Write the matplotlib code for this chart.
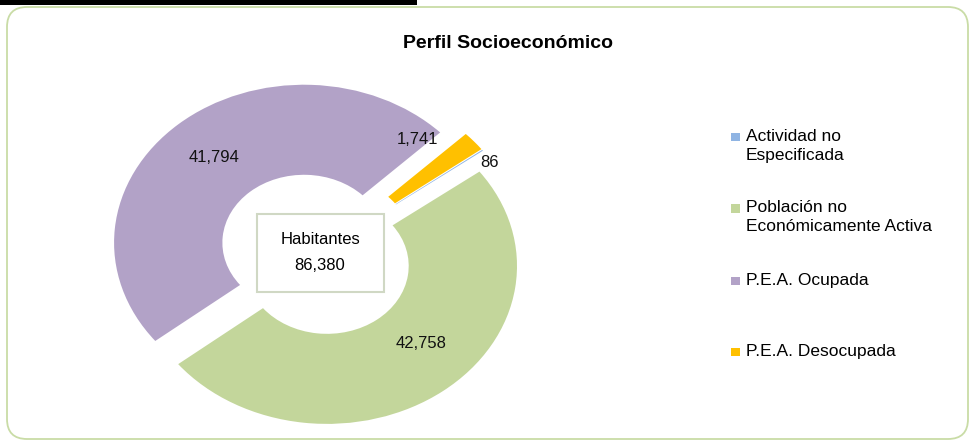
import matplotlib
matplotlib.use("Agg")
import matplotlib.pyplot as plt
from matplotlib.patches import FancyBboxPatch, Rectangle
import numpy as np

plt.rcParams['font.family'] = ['Liberation Sans', 'DejaVu Sans']

# ---- data ----
categories = ["Actividad no\nEspecificada",
              "Población no\nEconómicamente Activa",
              "P.E.A. Ocupada",
              "P.E.A. Desocupada"]
values = [86, 42758, 41794, 1741]
colors = ["#8fb4e3", "#c3d69b", "#b2a2c7", "#ffc000"]
total_label = "Habitantes"
total_value = 86380
title = "Perfil Socioeconómico"

W, H = 972, 441
fig = plt.figure(figsize=(W / 100, H / 100), dpi=100)

# pixel overlay axes (for frame, title, legend)
ov = fig.add_axes([0, 0, 1, 1], zorder=0)
ov.set_xlim(0, W)
ov.set_ylim(H, 0)
ov.axis('off')

# outer rounded border
ov.add_patch(FancyBboxPatch((7, 7), 961, 432,
                            boxstyle="round,pad=0,rounding_size=20",
                            fc="white", ec="#c9dca6", lw=1.3))
# top black bar
ov.add_patch(Rectangle((0, 0), 417, 5, fc="black", ec="none"))

# pie axes: map data units to pixels (anisotropic, like the stretched original)
cx, cy, sx, sy = 316, 254, 190, 158
ax = fig.add_axes([0, 0, 1, 1], zorder=1)
ax.patch.set_alpha(0)
explode = [0.095] * len(values)
wedges, _ = ax.pie(values, colors=colors, startangle=37, counterclock=False,
                   explode=explode, radius=1.0,
                   wedgeprops=dict(width=0.57, linewidth=0))
ax.set_aspect('auto')
ax.set_xlim(-cx / sx, (W - cx) / sx)
ax.set_ylim((cy - H) / sy, cy / sy)
ax.axis('off')

# data labels: (radius, angle shift in degrees) relative to wedge middle
label_pos = [(1.08, -4.5), (0.79, 6.7), (0.81, 0.0), (0.90, 13.0)]
for w, v, (r, dth) in zip(wedges, values, label_pos):
    mid = np.deg2rad((w.theta1 + w.theta2) / 2)
    ang = mid + np.deg2rad(dth)
    ax.text(r * np.cos(ang), r * np.sin(ang), f"{v:,}", ha='center', va='center',
            fontsize=12, color='#111111')

# center box
ov.add_patch(Rectangle((257, 214), 127, 78, fc="white", ec="#d0d8c4", lw=1.5, zorder=3))
ov.text(320, 240, total_label, ha='center', va='center', fontsize=12, zorder=4)
ov.text(320, 266, f"{total_value:,}", ha='center', va='center', fontsize=12, zorder=4)

# title
ov.text(508, 43, title, ha='center', va='center', fontsize=14, fontweight='bold')

# legend
leg_y = [137, 208.5, 281, 352]
for c, lab, y in zip(colors, categories, leg_y):
    ov.add_patch(Rectangle((731, y - 4.5), 9, 8.5, fc=c, ec='none'))
    ov.text(746, y - 8, lab, ha='left', va='top', fontsize=12.5, linespacing=1.3)

fig.savefig("out.png", dpi=100)
